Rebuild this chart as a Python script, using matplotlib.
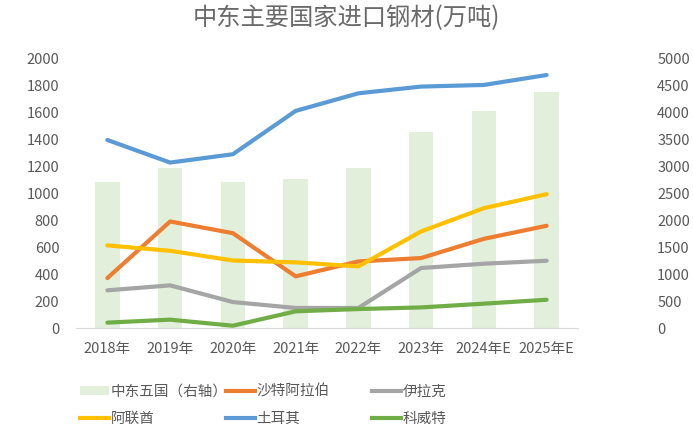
import matplotlib
matplotlib.use("Agg")
import matplotlib.pyplot as plt
from matplotlib.lines import Line2D
from matplotlib.patches import Patch
import numpy as np

plt.rcParams['font.family'] = ['Noto Sans CJK SC', 'DejaVu Sans']

years = ["2018年", "2019年", "2020年", "2021年", "2022年", "2023年", "2024年E", "2025年E"]
total_five = [2720, 2980, 2720, 2770, 2980, 3640, 4030, 4380]
saudi = [371, 792, 705, 384, 495, 520, 663, 760]
iraq = [280, 317, 193, 149, 149, 446, 478, 500]
uae = [614, 574, 502, 488, 458, 718, 891, 995]
turkey = [1398, 1230, 1292, 1614, 1745, 1795, 1807, 1881]
other = [40, 62, 17, 124, 141, 153, 181, 210]

labels = {
    "bar": "中东五国（右轴）",
    "saudi": "沙特阿拉伯",
    "iraq": "伊拉克",
    "uae": "阿联酋",
    "turkey": "土耳其",
    "other": "科威特",
}

c_bar = "#E2EFDA"
c_saudi = "#ED7D31"
c_iraq = "#A5A5A5"
c_uae = "#FFC000"
c_turkey = "#5B9BD5"
c_other = "#70AD47"
txt = "#595959"

W, H = 693, 441
fig = plt.figure(figsize=(W / 100, H / 100), dpi=100)
ax = fig.add_axes([76 / W, 1 - 328 / H, (578 - 76) / W, (328 - 59) / H])
ax2 = ax.twinx()

x = np.arange(len(years))
ax2.bar(x, total_five, width=0.39, color=c_bar, zorder=1)
ax2.set_ylim(0, 5000)
ax2.set_yticks(np.arange(0, 5001, 500))

ax.set_zorder(ax2.get_zorder() + 1)
ax.patch.set_visible(False)

lw = 3
ax.plot(x, turkey, color=c_turkey, lw=lw, solid_capstyle='round')
ax.plot(x, saudi, color=c_saudi, lw=lw, solid_capstyle='round')
ax.plot(x, iraq, color=c_iraq, lw=lw, solid_capstyle='round')
ax.plot(x, uae, color=c_uae, lw=lw, solid_capstyle='round')
ax.plot(x, other, color=c_other, lw=lw, solid_capstyle='round')

ax.set_xlim(-0.5, len(years) - 0.5)
ax.set_ylim(0, 2000)
ax.set_yticks(np.arange(0, 2001, 200))
ax.set_xticks(x)
ax.set_xticklabels(years)

for a in (ax, ax2):
    for s in a.spines.values():
        s.set_visible(False)
    a.tick_params(length=0, colors=txt, labelsize=10.5)
ax.spines['bottom'].set_visible(True)
ax.spines['bottom'].set_color("#D9D9D9")
ax.tick_params(axis='y', pad=12)
ax.tick_params(axis='x', pad=10)
for lab in ax2.get_yticklabels():
    lab.set_horizontalalignment('left')
ax2.tick_params(axis='y', pad=57)

fig.text(346 / W, 1 - 18 / H, "中东主要国家进口钢材(万吨)", ha='center', va='center',
         fontsize=17.5, color="#6a6a6a")

items = [
    (Patch(facecolor=c_bar, edgecolor='none'), labels["bar"], 80, 392),
    (Line2D([], [], color=c_saudi, lw=lw), labels["saudi"], 226, 392),
    (Line2D([], [], color=c_iraq, lw=lw), labels["iraq"], 372, 392),
    (Line2D([], [], color=c_uae, lw=lw), labels["uae"], 80, 419),
    (Line2D([], [], color=c_turkey, lw=lw), labels["turkey"], 226, 419),
    (Line2D([], [], color=c_other, lw=lw), labels["other"], 372, 419),
]
for h, l, px, py in items:
    leg = fig.legend([h], [l], loc='center left', bbox_to_anchor=(px / W, 1 - py / H),
                     frameon=False, fontsize=10.5, handlelength=2.0, handletextpad=0.1,
                     borderpad=0, borderaxespad=0, handleheight=0.6)
    for t in leg.get_texts():
        t.set_color(txt)

fig.savefig("out.png", dpi=100, facecolor='white')
